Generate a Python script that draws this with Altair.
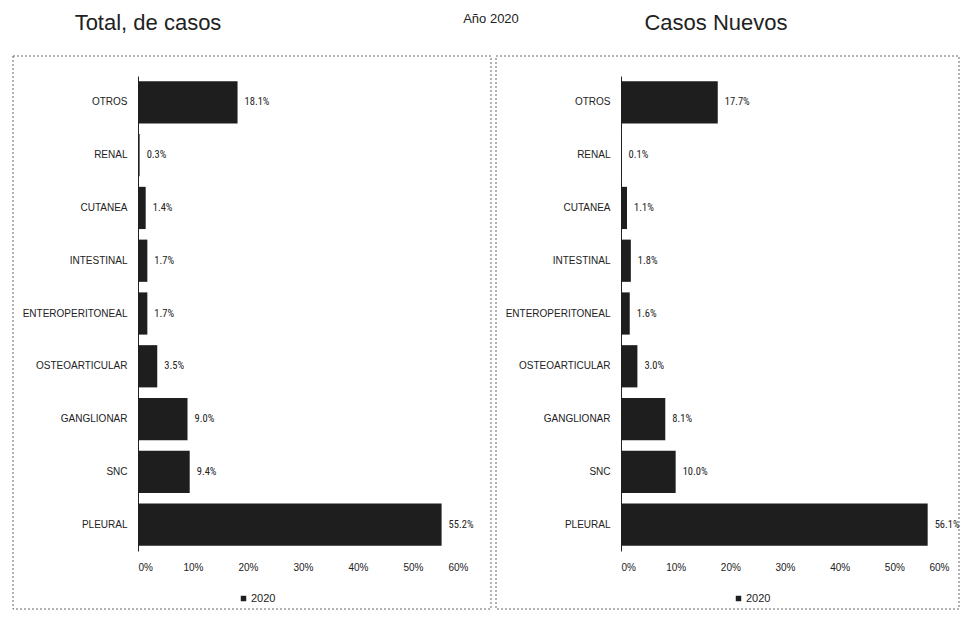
import altair as alt
import pandas as pd

categories = ["OTROS", "RENAL", "CUTANEA", "INTESTINAL", "ENTEROPERITONEAL",
              "OSTEOARTICULAR", "GANGLIONAR", "SNC", "PLEURAL"]
total_values = [18.1, 0.3, 1.4, 1.7, 1.7, 3.5, 9.0, 9.4, 55.2]
nuevos_values = [17.7, 0.1, 1.1, 1.8, 1.6, 3.0, 8.1, 10.0, 56.1]
series_name = "2020"
x_ticks = [0, 0.1, 0.2, 0.3, 0.4, 0.5, 0.6]
main_title = "Año 2020"
panel_titles = ["Total, de casos", "Casos Nuevos"]

FONT = "Liberation Sans, Arial"
NARROW = "Roboto Condensed, Liberation Sans"
BAR = "#1e1e1e"
one = alt.Data(values=[{"k": 1}])


def panel(values, width, title, title_cx, legend_x, frame, extra=None):
    df = pd.DataFrame({
        "cat": categories,
        "val": [v / 100 for v in values],
        "lbl": [f"{v:.1f}%" for v in values],
        "serie": series_name,
    })
    base = alt.Chart(df)
    y = alt.Y("cat:N", sort=categories, title=None,
              scale=alt.Scale(paddingInner=0.2, paddingOuter=0.1),
              axis=alt.Axis(ticks=False, domain=True, domainColor="#222",
                            labelPadding=11, labelFontSize=10, labelFont=FONT,
                            labelColor="#222"))
    x = alt.X("val:Q", title=None, scale=alt.Scale(domain=[0, 0.6], nice=False),
              axis=alt.Axis(values=x_ticks, format=".0%", grid=False, ticks=False,
                            domain=False, labelPadding=11, labelFontSize=10,
                            labelFont=FONT, labelColor="#222"))
    bars = base.mark_bar().encode(
        x=x, y=y,
        color=alt.Color("serie:N", scale=alt.Scale(range=[BAR]),
                        legend=alt.Legend(orient="none", legendX=legend_x, legendY=517,
                                          title=None, symbolType="square", symbolSize=30,
                                          labelFontSize=11, labelFont=FONT,
                                          labelColor="#222", symbolStrokeWidth=0,
                                          labelOffset=2)))
    labels = base.mark_text(align="left", dx=7, fontSize=10.5, font=NARROW,
                            color="#222").encode(
        x="val:Q", y=alt.Y("cat:N", sort=categories), text="lbl:N")
    frame_layer = alt.Chart(one).mark_rect(
        fill="transparent", stroke="#666", strokeDash=[2, 2], strokeWidth=1
    ).encode(x=alt.value(frame[0]), x2=alt.value(frame[1]),
             y=alt.value(frame[2]), y2=alt.value(frame[3]))
    title_layer = alt.Chart(one).mark_text(
        fontSize=22, font=FONT, baseline="top", align="center", color="#222"
    ).encode(x=alt.value(title_cx), y=alt.value(-63), text=alt.value(title))
    layers = [frame_layer, bars, labels, title_layer]
    if extra is not None:
        layers.append(alt.Chart(one).mark_text(
            fontSize=13, font=FONT, baseline="top", align="center", color="#222"
        ).encode(x=alt.value(extra[1]), y=alt.value(-63), text=alt.value(extra[0])))
    return alt.layer(*layers).properties(width=width, height=475)


left = panel(total_values, 330, panel_titles[0], 10, 100, (-125, 353, -20, 533),
             extra=(main_title, 353))
right = panel(nuevos_values, 328, panel_titles[1], 95, 112, (-125, 338, -20, 533))

chart = alt.hconcat(left, right, spacing=153, bounds="flush").resolve_scale(
    color="independent").resolve_legend(color="independent").properties(
    padding={"left": 4, "top": 4, "right": 0, "bottom": 0}
).configure_view(stroke=None)

chart.save("out.html", embed_options={"renderer": "svg", "actions": False})
